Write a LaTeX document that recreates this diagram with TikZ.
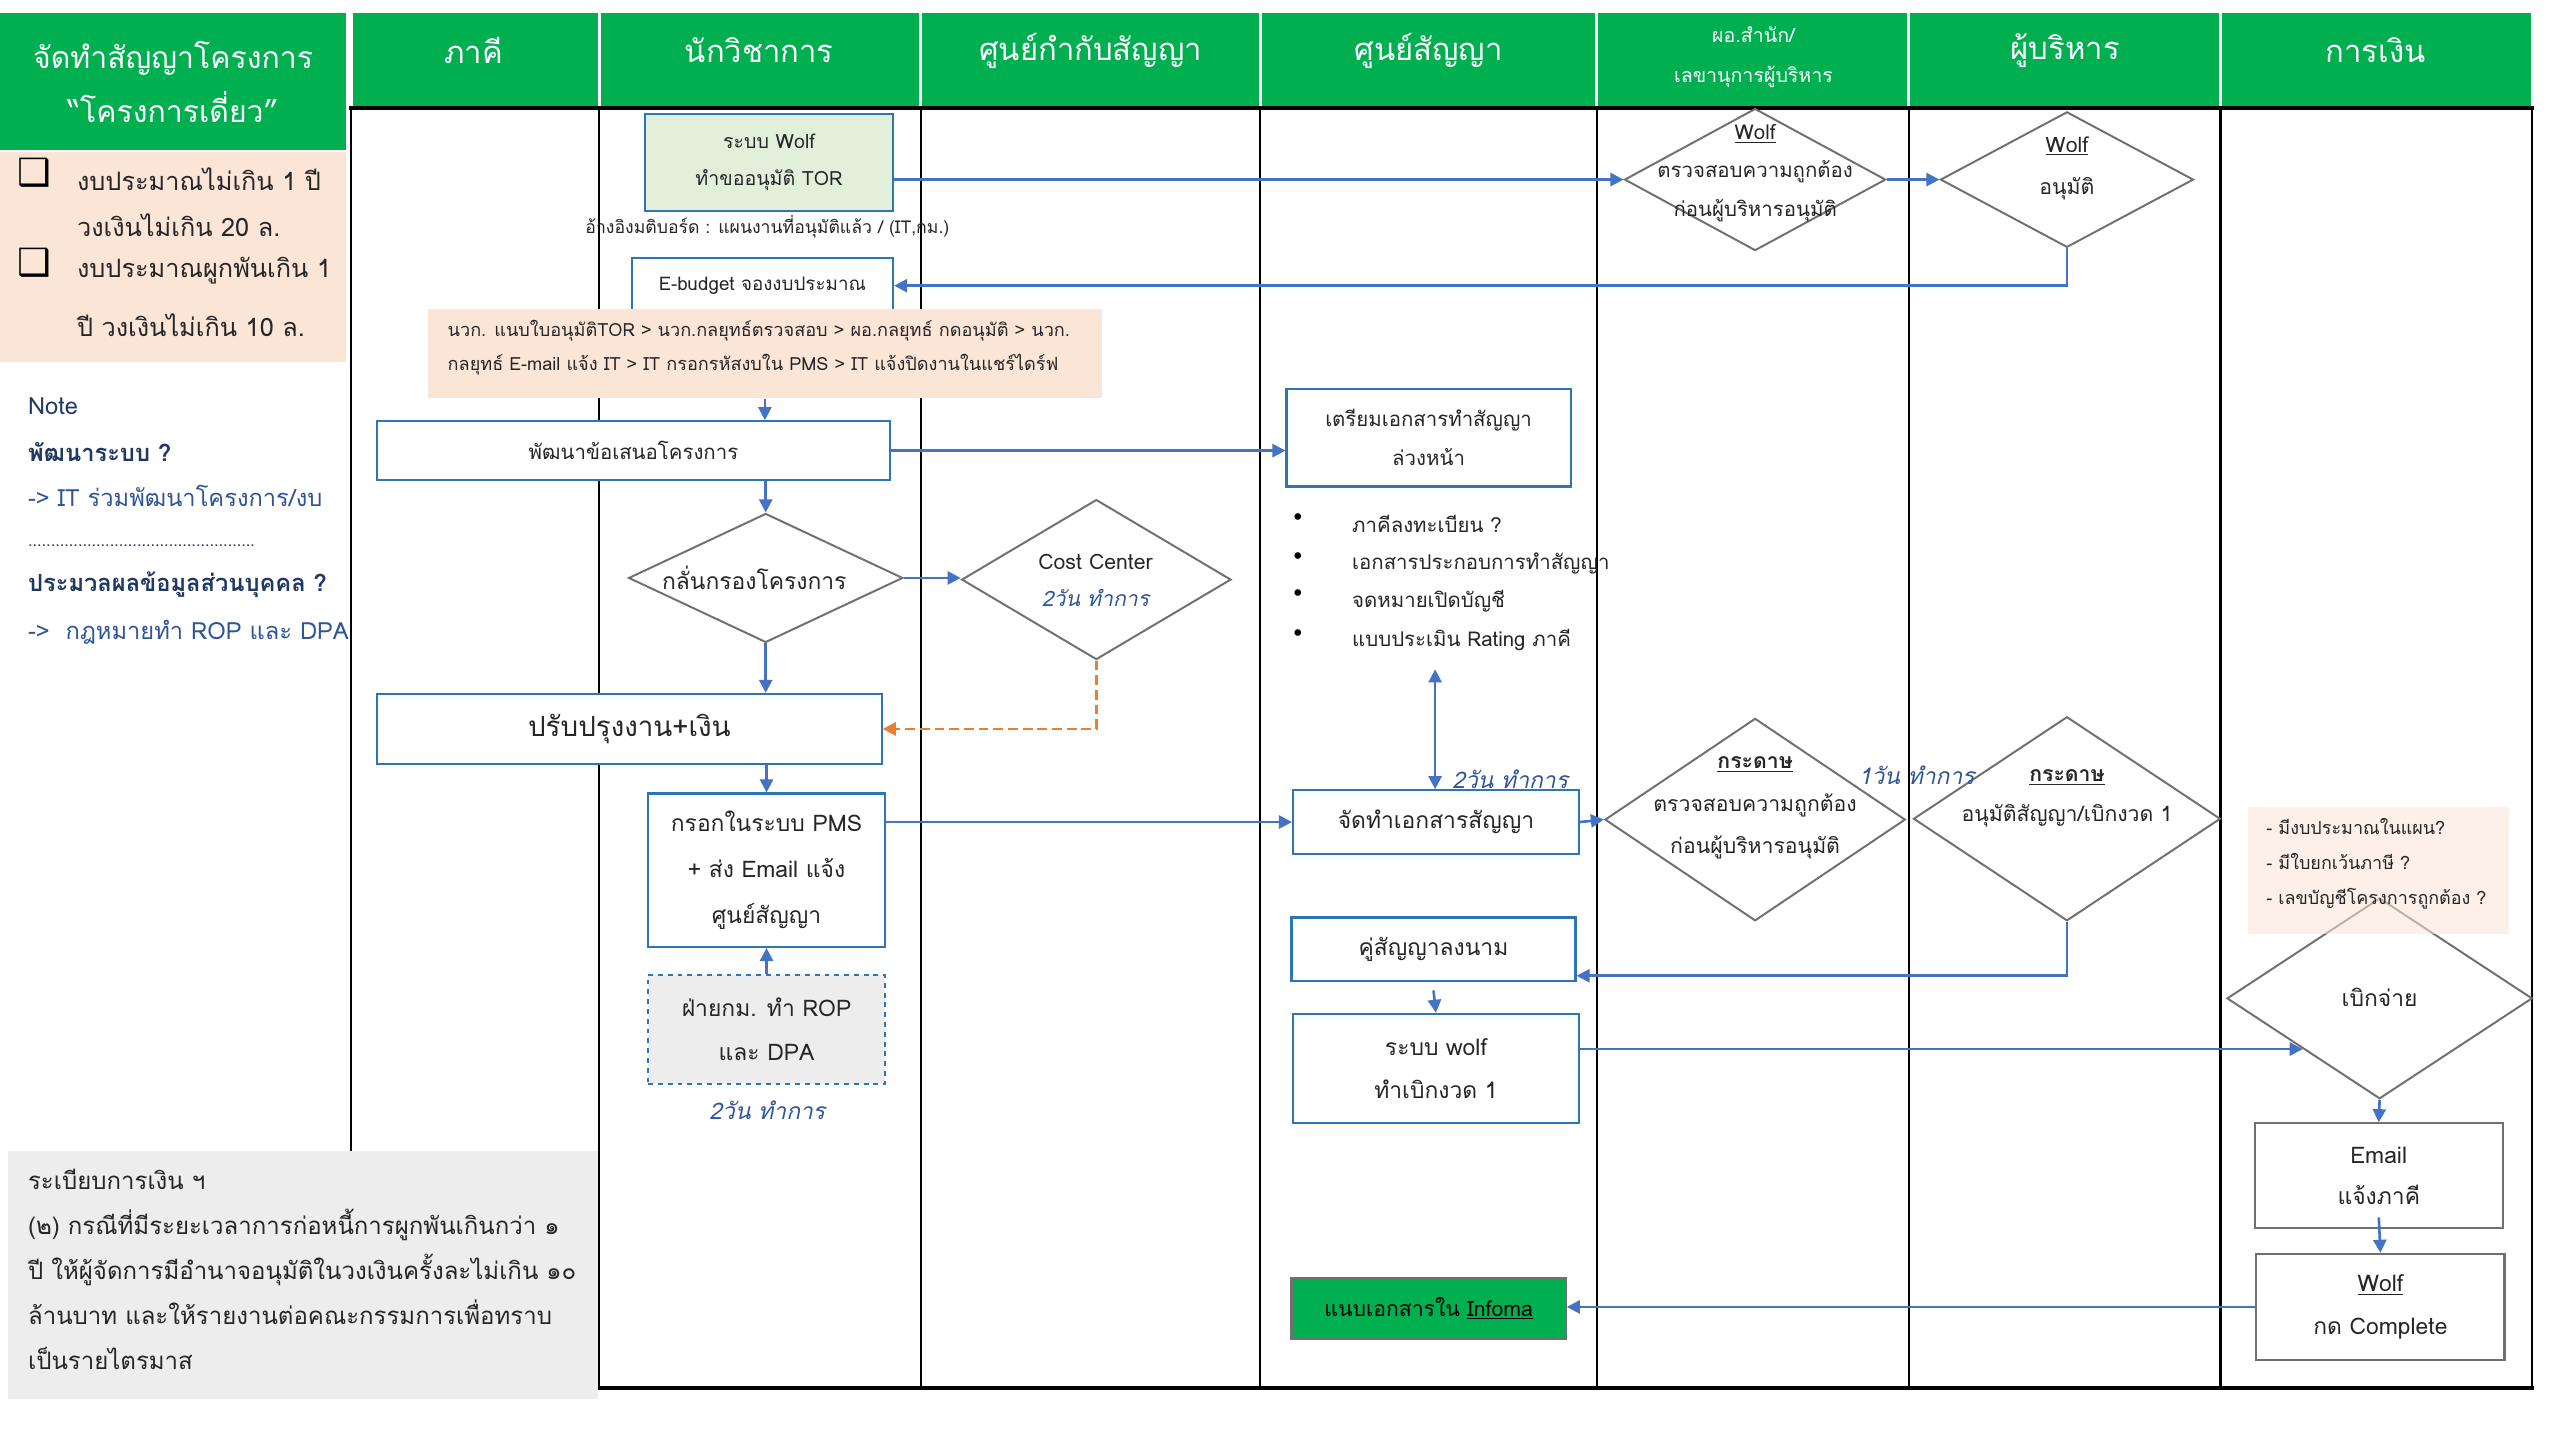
\documentclass[tikz,border=0pt]{standalone}
\usepackage{fontspec}
\setmainfont{Loma}[Script=Thai]
\newfontfamily\symfont{DejaVu Sans}
\usetikzlibrary{shapes.geometric,arrows.meta}
\definecolor{hdrgreen}{HTML}{00B050}
\definecolor{peach}{HTML}{FBE5D6}
\definecolor{paleg}{HTML}{E2EFDA}
\definecolor{greybg}{HTML}{EDEDED}
\definecolor{flowblue}{HTML}{4472C4}
\definecolor{boxblue}{HTML}{2E75B6}
\definecolor{diagrey}{HTML}{707070}
\definecolor{navy}{HTML}{1F3864}
\definecolor{midblue}{HTML}{2F5597}
\definecolor{txt}{HTML}{262626}
\definecolor{dashorange}{HTML}{ED7D31}
\newcommand{\fs}[2]{\fontsize{#1}{#2}\selectfont}
\tikzset{
  hdr/.style={fill=hdrgreen, text=white, inner sep=0pt, align=center},
  box/.style={rectangle, draw=boxblue, line width=1.3pt, fill=white, text=txt, align=center, inner sep=0pt},
  greybox/.style={rectangle, draw=diagrey, line width=1.3pt, fill=white, text=txt, align=center, inner sep=0pt},
  diam/.style={diamond, draw=diagrey, line width=1.2pt, fill=white, inner sep=0pt},
  dtext/.style={text=txt, align=center, inner sep=0pt},
  plain/.style={text=txt, inner sep=0pt},
  days/.style={text=midblue, inner sep=0pt, font=\fs{14}{16}\itshape},
  flow/.style={draw=flowblue, line width=1.6pt, -{Triangle[length=8pt,width=8pt]}},
  lane/.style={line width=1.3pt, black},
}
\begin{document}
\begin{tikzpicture}[x=1pt,y=-1pt]
\useasboundingbox (0,0) rectangle (1568,882);
\fill[white] (0,0) rectangle (1568,882);

% ---- header row ----
\node[hdr, minimum width=212, minimum height=84, font=\fs{18.5}{33}] (title) at (106,50) {จัดทำสัญญาโครงการ\\“โครงการเดี่ยว”};
\foreach \a/\b/\n in {215/367/c1,367/564/c2,564/772/c3,772/978/c4,978/1169/c5,1169/1360/c6,1360/1551/c7}{
  \fill[hdrgreen] (\a+1,8) rectangle (\b-1,66);
}
\node[text=white, font=\fs{19}{22}] (h1) at (290,31) {ภาคี};
\node[text=white, font=\fs{19}{22}] (h2) at (465,31) {นักวิชาการ};
\node[text=white, font=\fs{19}{22}] (h3) at (668,31) {ศูนย์กำกับสัญญา};
\node[text=white, font=\fs{19}{22}] (h4) at (875,31) {ศูนย์สัญญา};
\node[text=white, align=center, font=\fs{12}{25}] (h5) at (1074,35) {ผอ.สำนัก/\\เลขานุการผู้บริหาร};
\node[text=white, font=\fs{19}{22}] (h6) at (1265,31) {ผู้บริหาร};
\node[text=white, font=\fs{19}{22}] (h7) at (1455,31) {การเงิน};

% ---- swimlane grid ----
\draw[lane] (215,66) -- (215,706);
\foreach \x in {367,564,772,978,1169,1360,1551}{
  \draw[lane] (\x,66) -- (\x,850);
}
\draw[line width=2.6pt] (214,66) -- (1552,66);
\draw[line width=2.6pt] (366,850) -- (1552,850);

% ---- left panel ----
\node[fill=peach, minimum width=212, minimum height=129, inner sep=0pt] (scope) at (106,157.5) {};
\node[text=black, font=\symfont\fs{23}{24}, inner sep=0pt] (cb1) at (21,106) {❑};
\node[text=black, font=\symfont\fs{23}{24}, inner sep=0pt] (cb2) at (21,161) {❑};
\node[plain, anchor=west, font=\fs{15.5}{17}] (s1) at (47,110) {งบประมาณไม่เกิน 1 ปี};
\node[plain, anchor=west, font=\fs{15.5}{17}] (s2) at (47,138) {วงเงินไม่เกิน 20 ล.};
\node[plain, anchor=west, font=\fs{15.5}{17}] (s3) at (47,166) {งบประมาณผูกพันเกิน 1};
\node[plain, anchor=west, font=\fs{15.5}{17}] (s4) at (47,199) {ปี วงเงินไม่เกิน 10 ล.};

\node[text=navy, anchor=west, inner sep=0pt, font=\fs{14.5}{16}] (n1) at (17,249) {Note};
\node[text=navy, anchor=west, inner sep=0pt, font=\fs{14.5}{16}\bfseries] (n2) at (17,277) {พัฒนาระบบ ?};
\node[text=midblue, anchor=west, inner sep=0pt, font=\fs{14.5}{16}] (n3) at (17,304) {-> IT ร่วมพัฒนาโครงการ/งบ};
\node[text=navy, anchor=west, inner sep=0pt, font=\fs{10}{12}] (n4) at (17,334) {..................................................};
\node[text=navy, anchor=west, inner sep=0pt, font=\fs{14.5}{16}\bfseries] (n5) at (17,358) {ประมวลผลข้อมูลส่วนบุคคล ?};
\node[text=midblue, anchor=west, inner sep=0pt, font=\fs{14.5}{16}] (n6) at (17,387) {->{ }{ }กฎหมายทำ ROP และ DPA};

\node[fill=greybg, minimum width=361, minimum height=152, inner sep=0pt] (rule) at (185.5,781) {};
\node[plain, anchor=north west, align=left, font=\fs{14.7}{27.5}] (rulet) at (17,716) {ระเบียบการเงิน ฯ\\(๒) กรณีที่มีระยะเวลาการก่อหนี้การผูกพันเกินกว่า ๑\\ปี ให้ผู้จัดการมีอำนาจอนุมัติในวงเงินครั้งละไม่เกิน ๑๐\\ล้านบาท และให้รายงานต่อคณะกรรมการเพื่อทราบ\\เป็นรายไตรมาส};

% ---- lane: นักวิชาการ ----
\node[box, fill=paleg, minimum width=152, minimum height=59, font=\fs{12}{23}] (tor) at (471,99.5) {ระบบ Wolf\\ทำขออนุมัติ TOR};
\node[plain, font=\fs{10.8}{12}] (ref) at (470,139) {อ้างอิงมติบอร์ด : แผนงานที่อนุมัติแล้ว / (IT,กม.)};
\node[box, minimum width=160, minimum height=34, font=\fs{11.5}{14}] (eb) at (467,175) {E-budget จองงบประมาณ};
\node[fill=peach, minimum width=413, minimum height=55, inner sep=0pt] (proc) at (468.5,216.5) {};
\node[plain, anchor=north west, align=left, font=\fs{11.1}{21}] (proct) at (274,196) {นวก. แนบใบอนุมัติTOR > นวก.กลยุทธ์ตรวจสอบ > ผอ.กลยุทธ์ กดอนุมัติ > นวก.\\กลยุทธ์ E-mail แจ้ง IT > IT กรอกรหัสงบใน PMS > IT แจ้งปิดงานในแชร์ไดร์ฟ};
\node[box, minimum width=314, minimum height=36, font=\fs{12.5}{14}] (dev) at (388,276) {พัฒนาข้อเสนอโครงการ};
\node[diam, minimum width=168, minimum height=79] (filt) at (469,354) {};
\node[dtext, font=\fs{14}{16}] (filtt) at (462,354) {กลั่นกรองโครงการ};
\node[box, minimum width=309, minimum height=43, font=\fs{17}{19}] (imp) at (385.5,446.5) {ปรับปรุงงาน+เงิน};
\node[box, minimum width=145, minimum height=94, font=\fs{14}{28}] (pms) at (469.5,533) {กรอกในระบบ PMS\\+ ส่ง Email แจ้ง\\ศูนย์สัญญา};
\node[box, dashed, fill=greybg, minimum width=145, minimum height=67, font=\fs{14}{27}] (rop) at (469.5,630.5) {ฝ่ายกม. ทำ ROP\\และ DPA};
\node[days] (ropdays) at (470,680) {2วัน ทำการ};

% ---- lane: ศูนย์กำกับสัญญา ----
\node[diam, minimum width=165, minimum height=98] (costc) at (671.5,355) {};
\node[dtext, font=\fs{13}{23}] (costct) at (671,355.5) {Cost Center\\{\color{midblue}\itshape 2วัน ทำการ}};

% ---- lane: ศูนย์สัญญา ----
\node[box, minimum width=174, minimum height=60, font=\fs{12.5}{24}] (prep) at (875,268) {เตรียมเอกสารทำสัญญา\\ล่วงหน้า};
\foreach \y/\t [count=\i] in {321/ภาคีลงทะเบียน ?,345/เอกสารประกอบการทำสัญญา,368/จดหมายเปิดบัญชี,392/แบบประเมิน Rating ภาคี}{
  \node[text=black, font=\symfont\fs{14}{15}, inner sep=0pt] (dot\i) at (795,\y-3) {•};
  \node[plain, anchor=west, font=\fs{12.5}{14}] (bul\i) at (828,\y) {\t};
}
\coordinate (bulend) at (879,410);
\node[box, minimum width=175, minimum height=39, font=\fs{14}{16}] (mkc) at (879.5,503.5) {จัดทำเอกสารสัญญา};
\node[days] (mkcdays) at (925,477) {2วัน ทำการ};
\node[box, minimum width=174, minimum height=39, font=\fs{14}{16}] (sign) at (878,581.5) {คู่สัญญาลงนาม};
\node[box, minimum width=175, minimum height=67, font=\fs{14}{26}] (wd) at (879.5,654.5) {ระบบ wolf\\ทำเบิกงวด 1};
\node[rectangle, draw=diagrey, line width=1.3pt, fill=hdrgreen, text=black, minimum width=168, minimum height=37, inner sep=0pt, font=\fs{13}{15}] (inf) at (875,801.5) {แนบเอกสารใน \underline{Infoma}};

% ---- lane: ผอ.สำนัก / ผู้บริหาร ----
\node[diam, minimum width=160, minimum height=87] (chk1) at (1075,110) {};
\node[dtext, font=\fs{12.5}{23.5}] (chk1t) at (1075,106) {\underline{Wolf}\\ตรวจสอบความถูกต้อง\\ก่อนผู้บริหารอนุมัติ};
\node[diam, minimum width=155, minimum height=83] (appr1) at (1266,110) {};
\node[dtext, font=\fs{13}{26}] (appr1t) at (1266,103) {\underline{Wolf}\\อนุมัติ};
\node[diam, minimum width=184, minimum height=124] (chk2) at (1075,502) {};
\node[dtext, font=\fs{13}{26}] (chk2t) at (1075,495) {\textbf{\underline{กระดาษ}}\\ตรวจสอบความถูกต้อง\\ก่อนผู้บริหารอนุมัติ};
\node[diam, minimum width=188, minimum height=125] (appr2) at (1266,501.5) {};
\node[dtext, font=\fs{13}{24}] (appr2t) at (1266,489) {\textbf{\underline{กระดาษ}}\\อนุมัติสัญญา/เบิกงวด 1};
\node[days] (chkdays) at (1174,475) {1วัน ทำการ};

% ---- lane: การเงิน ----
\node[diam, minimum width=187, minimum height=123] (disb) at (1457.5,611.5) {};
\node[dtext, font=\fs{14}{16}] (disbt) at (1457.5,611) {เบิกจ่าย};
\node[fill=peach, fill opacity=0.55, minimum width=160, minimum height=78, inner sep=0pt] (fnote) at (1457,533) {};
\node[plain, anchor=north west, align=left, font=\fs{11}{21.5}] (fnotet) at (1388,501) {- มีงบประมาณในแผน?\\- มีใบยกเว้นภาษี ?\\- เลขบัญชีโครงการถูกต้อง ?};
\node[greybox, minimum width=152, minimum height=64, font=\fs{14}{25}] (email) at (1457,720) {Email\\แจ้งภาคี};
\node[greybox, minimum width=152, minimum height=65, font=\fs{14}{26}] (wc) at (1458,800.5) {\underline{Wolf}\\กด Complete};

% ---- connectors ----
\draw[flow] (tor.east |- chk1.west) -- (chk1.west);
\draw[flow] (chk1.east) -- (appr1.west);
\draw[flow] (appr1.south) |- (eb.east);
\draw[flow] (proc.south) -- (proc.south |- dev.north);
\draw[flow] (dev.east) -- (dev.east -| prep.west);
\draw[flow] (filt.north |- dev.south) -- (filt.north);
\draw[flow] (filt.east) -- (filt.east -| costc.west);
\draw[flow] (filt.south) -- (filt.south |- imp.north);
\draw[draw=dashorange, line width=1.5pt, dash pattern=on 6pt off 3pt, -{Triangle[length=8pt,width=8pt]}] (costc.south) |- (imp.east);
\draw[flow] (pms.north |- imp.south) -- (pms.north);
\draw[flow] (pms.east |- mkc.west) -- (mkc.west);
\draw[flow] (rop.north) -- (pms.south);
\draw[flow, {Triangle[length=8pt,width=8pt]}-{Triangle[length=8pt,width=8pt]}] (bulend) -- (bulend |- mkc.north);
\draw[flow] (mkc.east) -- (chk2.west);
\draw[flow] (appr2.south) |- ([yshift=4pt]sign.south east);
\draw[flow] ([yshift=-5pt]sign.south) -- (wd.north);
\draw[flow] (wd.east |- disb.south west) -- (disb.south west);
\draw[flow] (disb.south) -- (email.north);
\draw[flow] ([yshift=7pt]email.south) -- (wc.north);
\draw[flow] (wc.west) -- (wc.west -| inf.east);
\end{tikzpicture}
\end{document}
